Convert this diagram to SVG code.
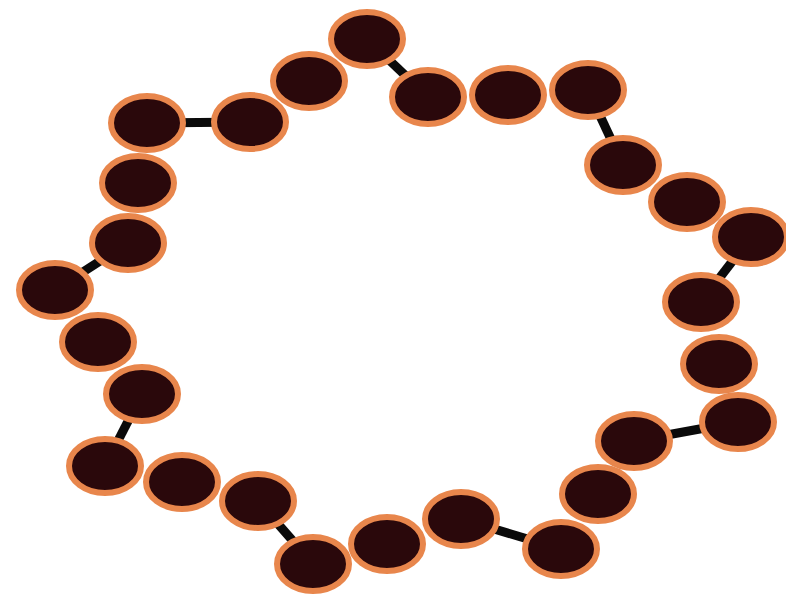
<svg xmlns="http://www.w3.org/2000/svg" width="786" height="594" viewBox="0 0 786 594">
<style>
.n{fill:#2a080b;stroke:#e8864c;stroke-width:6}
.c line{stroke:#0a0a0a;stroke-width:9}
</style>
<rect width="786" height="594" fill="#ffffff"/>
<g id="connectors" class="c">
<line x1="367" y1="39" x2="428" y2="97"/>
<line x1="147" y1="123" x2="250" y2="122"/>
<line x1="128" y1="243" x2="55" y2="290"/>
<line x1="142" y1="394" x2="105" y2="466"/>
<line x1="258" y1="501" x2="313" y2="564"/>
<line x1="461" y1="519" x2="561" y2="549"/>
<line x1="634" y1="441" x2="738" y2="422"/>
<line x1="701" y1="302" x2="751" y2="237"/>
<line x1="623" y1="165" x2="588" y2="90"/>
</g>
<g id="n1"><ellipse class="n" cx="367" cy="39" rx="36" ry="27"/></g>
<g id="n2"><ellipse class="n" cx="309" cy="81" rx="36" ry="27"/></g>
<g id="n3"><ellipse class="n" cx="250" cy="122" rx="36" ry="27"/></g>
<g id="n4"><ellipse class="n" cx="147" cy="123" rx="36" ry="27"/></g>
<g id="n5"><ellipse class="n" cx="138" cy="183" rx="36" ry="27"/></g>
<g id="n6"><ellipse class="n" cx="128" cy="243" rx="36" ry="27"/></g>
<g id="n7"><ellipse class="n" cx="55" cy="290" rx="36" ry="27"/></g>
<g id="n8"><ellipse class="n" cx="98" cy="342" rx="36" ry="27"/></g>
<g id="n9"><ellipse class="n" cx="142" cy="394" rx="36" ry="27"/></g>
<g id="n10"><ellipse class="n" cx="105" cy="466" rx="36" ry="27"/></g>
<g id="n11"><ellipse class="n" cx="182" cy="482" rx="36" ry="27"/></g>
<g id="n12"><ellipse class="n" cx="258" cy="501" rx="36" ry="27"/></g>
<g id="n13"><ellipse class="n" cx="313" cy="564" rx="36" ry="27"/></g>
<g id="n14"><ellipse class="n" cx="387" cy="544" rx="36" ry="27"/></g>
<g id="n15"><ellipse class="n" cx="461" cy="519" rx="36" ry="27"/></g>
<g id="n16"><ellipse class="n" cx="561" cy="549" rx="36" ry="27"/></g>
<g id="n17"><ellipse class="n" cx="598" cy="494" rx="36" ry="27"/></g>
<g id="n18"><ellipse class="n" cx="634" cy="441" rx="36" ry="27"/></g>
<g id="n19"><ellipse class="n" cx="738" cy="422" rx="36" ry="27"/></g>
<g id="n20"><ellipse class="n" cx="719" cy="364" rx="36" ry="27"/></g>
<g id="n21"><ellipse class="n" cx="701" cy="302" rx="36" ry="27"/></g>
<g id="n22"><ellipse class="n" cx="751" cy="237" rx="36" ry="27"/></g>
<g id="n23"><ellipse class="n" cx="687" cy="202" rx="36" ry="27"/></g>
<g id="n24"><ellipse class="n" cx="623" cy="165" rx="36" ry="27"/></g>
<g id="n25"><ellipse class="n" cx="588" cy="90" rx="36" ry="27"/></g>
<g id="n26"><ellipse class="n" cx="508" cy="95" rx="36" ry="27"/></g>
<g id="n27"><ellipse class="n" cx="428" cy="97" rx="36" ry="27"/></g>
</svg>
